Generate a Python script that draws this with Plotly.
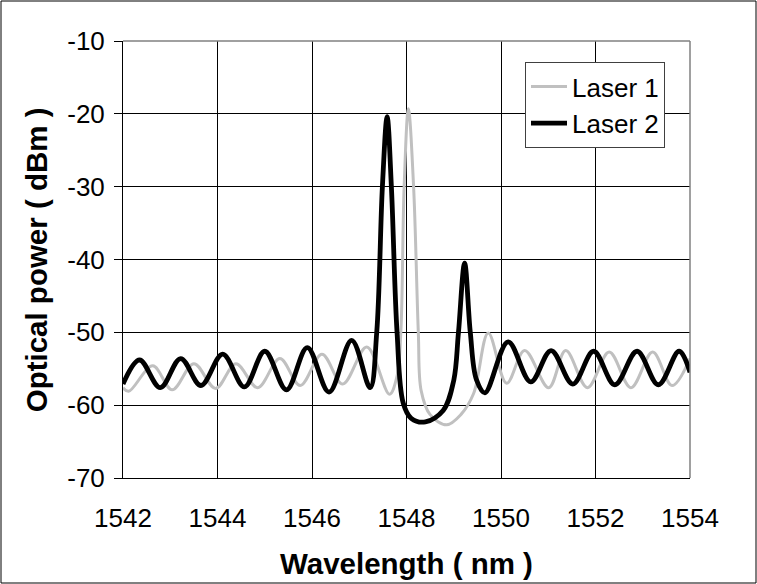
import plotly.graph_objects as go

# Laser 1 spectrum: wavelength (nm) and optical power (dBm) at peaks, troughs and flanks
laser1_nm = [1542.00, 1542.12, 1542.63, 1543.04, 1543.50, 1543.96, 1544.39, 1544.85,
             1545.32, 1545.75, 1546.21, 1546.65, 1547.16, 1547.64, 1547.80, 1547.88,
             1547.95, 1548.04, 1548.15, 1548.25, 1548.31, 1548.50, 1548.85, 1549.15,
             1549.42, 1549.73, 1550.12, 1550.50, 1551.01, 1551.37, 1551.83, 1552.29,
             1552.75, 1553.21, 1553.62, 1554.00]
laser1_dbm = [-57.6, -58.1, -54.6, -57.9, -54.3, -57.7, -54.3, -57.6,
              -53.6, -57.3, -53.0, -57.1, -52.0, -58.5, -56.0, -50.0,
              -30.0, -19.3, -30.0, -50.0, -58.0, -61.3, -62.7, -61.3,
              -58.4, -50.1, -57.0, -52.5, -57.6, -52.5, -57.6, -52.7,
              -57.6, -52.7, -57.3, -53.6]

# Laser 2 spectrum
laser2_nm = [1542.00, 1542.35, 1542.79, 1543.22, 1543.65, 1544.11, 1544.57, 1545.00,
             1545.46, 1545.90, 1546.36, 1546.84, 1547.23, 1547.37, 1547.49, 1547.59,
             1547.68, 1547.80, 1547.93, 1548.10, 1548.40, 1548.78, 1549.00, 1549.10,
             1549.23, 1549.35, 1549.48, 1549.66, 1550.15, 1550.63, 1551.06, 1551.52,
             1551.96, 1552.41, 1552.88, 1553.33, 1553.77, 1554.00]
laser2_dbm = [-57.1, -53.8, -57.6, -53.6, -57.3, -53.0, -57.5, -52.6,
              -57.9, -52.1, -58.2, -51.1, -57.6, -50.0, -30.0, -20.4,
              -30.0, -50.0, -59.7, -61.8, -62.3, -60.7, -56.6, -50.0,
              -40.5, -50.0, -56.5, -58.3, -51.3, -56.8, -52.5, -57.1,
              -52.6, -57.2, -52.6, -57.2, -52.6, -55.5]

x_ticks = [1542, 1544, 1546, 1548, 1550, 1552, 1554]
y_ticks = [-70, -60, -50, -40, -30, -20, -10]
y_tick_text = ["-70", "-60", "-50", "-40", "-30", "-20", "-10"]

FONT = "Liberation Sans, Arial, sans-serif"

fig = go.Figure()
fig.add_trace(go.Scatter(x=laser1_nm, y=laser1_dbm, name="Laser 1", mode="lines",
                         line=dict(color="#c0c0c0", width=3, shape="spline", smoothing=1.0)))
fig.add_trace(go.Scatter(x=laser2_nm, y=laser2_dbm, name="Laser 2", mode="lines",
                         line=dict(color="#000000", width=4.8, shape="spline", smoothing=1.0)))

fig.update_layout(
    width=757, height=584,
    margin=dict(l=123, r=67, t=41, b=106),
    paper_bgcolor="white", plot_bgcolor="white",
    font=dict(family=FONT, size=26, color="black"),
    showlegend=True,
    legend=dict(x=0.709, y=0.952, xanchor="left", yanchor="top",
                bgcolor="white", bordercolor="#404040", borderwidth=1,
                font=dict(size=26), tracegroupgap=0, itemwidth=36),
    xaxis=dict(range=[1542, 1554], tickvals=x_ticks, ticks="", showgrid=True,
               gridcolor="black", gridwidth=1, showline=True, linecolor="black",
               linewidth=1, zeroline=False, ticklabelstandoff=17,
               tickfont=dict(size=26)),
    yaxis=dict(range=[-70, -10], tickvals=y_ticks, ticktext=y_tick_text,
               ticks="outside", ticklen=8,
               tickcolor="black", showgrid=True, gridcolor="black", gridwidth=1,
               showline=True, linecolor="black", linewidth=1, zeroline=False,
               ticklabelstandoff=4, tickfont=dict(size=26)),
    annotations=[
        dict(text="<b>Wavelength ( nm )</b>", xref="paper", yref="paper",
             x=0.5, y=-0.195, xanchor="center", yanchor="middle", showarrow=False,
             font=dict(size=29.5)),
        dict(text="<b>Optical power ( dBm )</b>", xref="paper", yref="paper",
             x=-0.152, y=0.5, xanchor="center", yanchor="middle", showarrow=False,
             textangle=-90, font=dict(size=29.5)),
    ],
    shapes=[
        # plot-area frame on top and right
        dict(type="line", xref="paper", yref="paper", x0=0, x1=1, y0=1, y1=1,
             line=dict(color="#808080", width=1.5)),
        dict(type="line", xref="paper", yref="paper", x0=1, x1=1, y0=0, y1=1,
             line=dict(color="#808080", width=1.5)),
        # outer chart border
        dict(type="rect", xref="paper", yref="paper",
             x0=-122 / 567, x1=633 / 567, y0=-105 / 437, y1=477 / 437,
             line=dict(color="black", width=1), layer="below"),
    ],
)

fig.write_html("out.html")
